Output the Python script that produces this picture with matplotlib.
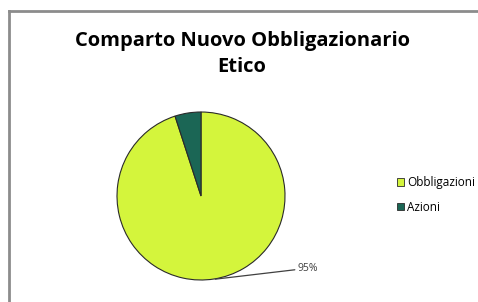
import matplotlib
matplotlib.use("Agg")
import matplotlib.pyplot as plt
from matplotlib.patches import Patch
from matplotlib.lines import Line2D

# ------------------------------------------------------------------ data
LABELS = ["Obbligazioni", "Azioni"]
SHARES = [95, 5]
COLORS = ["#D4F53C", "#1B6655"]
TITLE = "Comparto Nuovo Obbligazionario\nEtico"

W, H = 478, 302


def main():
    fig = plt.figure(figsize=(W / 100, H / 100), dpi=100)
    fig.patch.set_facecolor("white")

    # outer chart frame (only top/left visible in the crop)
    fig.add_artist(Line2D([9 / W, 9 / W], [-0.01, 1 - 11 / H], transform=fig.transFigure,
                          color="#8c8c8c", lw=2.0, solid_capstyle="projecting"))
    fig.add_artist(Line2D([9 / W, 1.01], [1 - 11 / H, 1 - 11 / H], transform=fig.transFigure,
                          color="#8c8c8c", lw=2.0, solid_capstyle="projecting"))

    fig.text(242 / W, 1 - 54 / H, TITLE, ha="center", va="center", fontsize=14.5,
             fontweight="bold", family="Open Sans", linespacing=1.4, color="black")

    # pie axes: centre (201,196) px, radius 84 px
    cx, cy, r = 201, 196, 84
    ax = fig.add_axes([(cx - r) / W, (H - cy - r) / H, 2 * r / W, 2 * r / H])
    ax.pie(SHARES, colors=COLORS, startangle=90, counterclock=False, radius=1.0,
           wedgeprops=dict(edgecolor="#2a2a2a", linewidth=0.8))
    ax.set_xlim(-1, 1)
    ax.set_ylim(-1, 1)
    ax.set_aspect("equal")
    ax.axis("off")

    # leader label for the big slice
    ax.annotate(f"{SHARES[0]}%", xy=(0.17, -0.99), xytext=(1.15, -0.86),
                fontsize=7.5, family="Open Sans", color="#404040", va="center", ha="left",
                arrowprops=dict(arrowstyle="-", color="#404040", lw=0.9,
                                shrinkA=0, shrinkB=0),
                annotation_clip=False)

    handles = [Patch(facecolor=c, edgecolor="#2a2a2a", linewidth=0.6) for c in COLORS]
    fig.legend(handles, LABELS, loc="center left", bbox_to_anchor=(397 / W, 1 - 195 / H),
               frameon=False, prop=dict(family="Open Sans", size=8.5),
               handlelength=0.6, handleheight=0.6, handletextpad=0.25, labelspacing=0.95,
               borderaxespad=0, borderpad=0)

    fig.savefig("out.png", dpi=100)


if __name__ == "__main__":
    main()
